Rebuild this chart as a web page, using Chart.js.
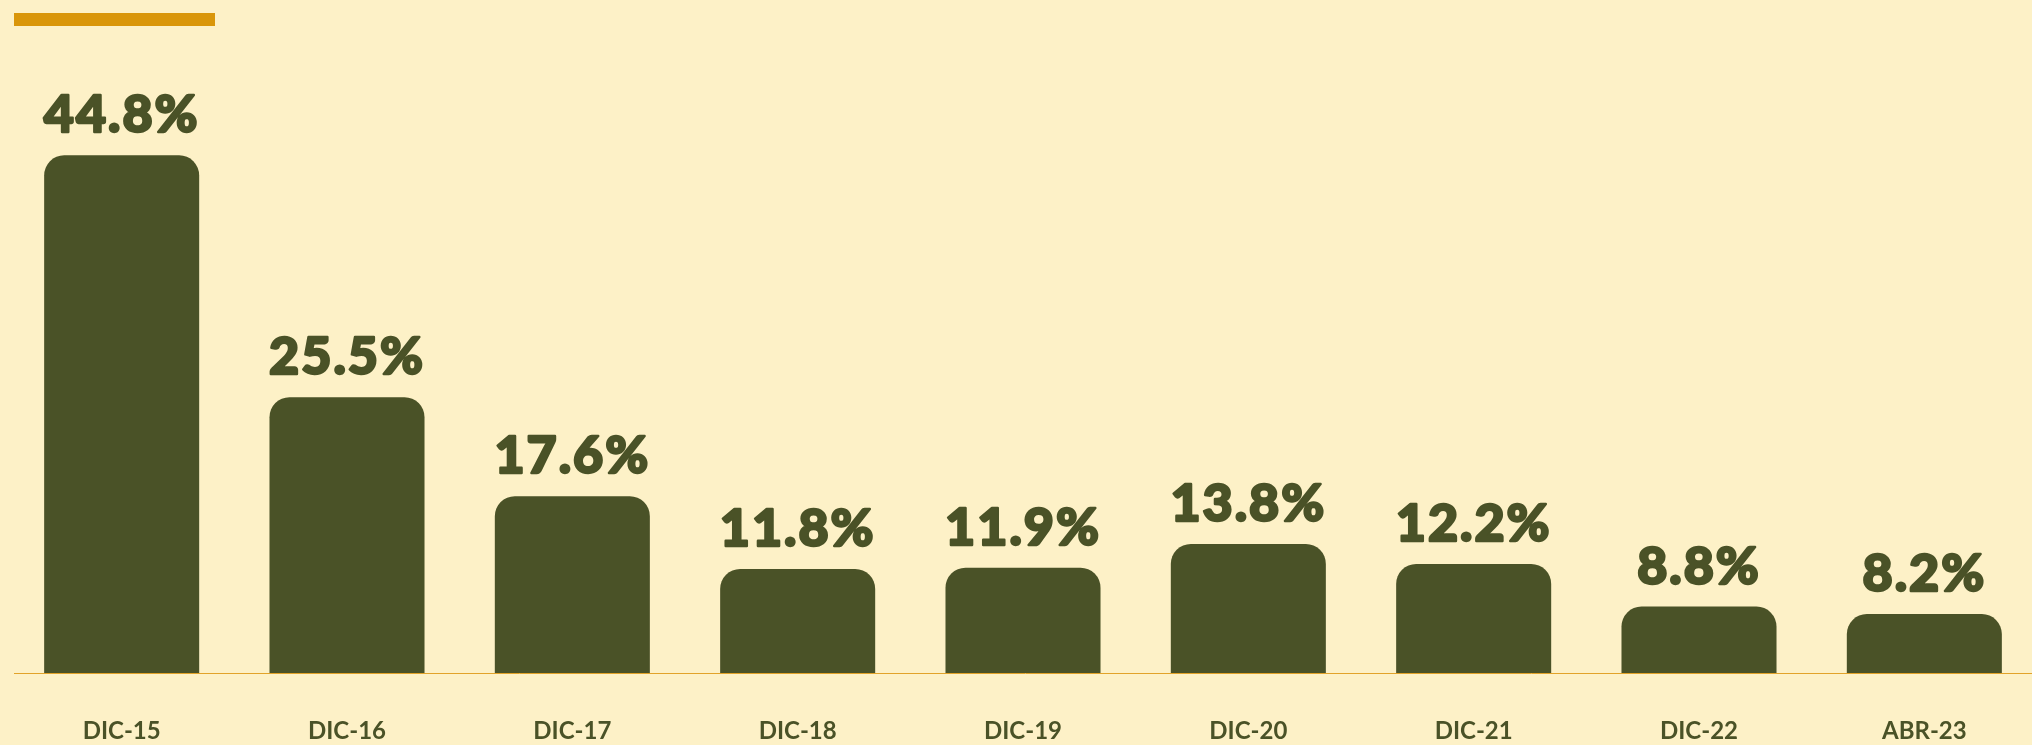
<!DOCTYPE html>
<html lang="es">
<head>
<meta charset="utf-8">
<title>Tasa anual</title>
<script src="https://cdn.jsdelivr.net/npm/chart.js@4.4.1/dist/chart.umd.min.js"></script>
<style>
  html, body { margin: 0; padding: 0; background: #FDF1C7; overflow: hidden; }
  body { width: 2032px; height: 745px; position: relative; }
  .accent { position: absolute; left: 14px; top: 12.5px; width: 201px; height: 13px; background: #D9960A; }
  .wrap { position: absolute; left: 0; top: 0; width: 2037px; height: 745px; }
</style>
</head>
<body>
<div class="accent"></div>
<div class="wrap"><canvas id="chart"></canvas></div>
<script>
// Periodos y valores (%)
const categories = ['DIC-15', 'DIC-16', 'DIC-17', 'DIC-18', 'DIC-19', 'DIC-20', 'DIC-21', 'DIC-22', 'ABR-23'];
const values = [44.8, 25.5, 17.6, 11.8, 11.9, 13.8, 12.2, 8.8, 8.2];
const valueLabels = ['44.8%', '25.5%', '17.6%', '11.8%', '11.9%', '13.8%', '12.2%', '8.8%', '8.2%'];

const INK = '#4A5227';
const LINE = '#E2A32A';

// Etiquetas de valor sobre cada barra (trazo extra para un peso más grueso)
const valueLabelPlugin = {
  id: 'valueLabels',
  afterDatasetsDraw(chart) {
    const ctx = chart.ctx;
    const meta = chart.getDatasetMeta(0);
    ctx.save();
    ctx.fillStyle = INK;
    ctx.strokeStyle = INK;
    ctx.lineWidth = 2.4;
    ctx.lineJoin = 'round';
    ctx.font = '900 52px Lato';
    if ('letterSpacing' in ctx) ctx.letterSpacing = '2px';
    ctx.textAlign = 'center';
    ctx.textBaseline = 'alphabetic';
    meta.data.forEach((bar, i) => {
      const y = bar.y - 23;
      ctx.strokeText(valueLabels[i], bar.x, y);
      ctx.fillText(valueLabels[i], bar.x, y);
    });
    ctx.restore();
  }
};

// Línea base del eje
const baselinePlugin = {
  id: 'baseline',
  beforeDatasetsDraw(chart) {
    const ctx = chart.ctx;
    const y = Math.round(chart.scales.y.getPixelForValue(chart.scales.y.min)) + 0.5;
    ctx.save();
    ctx.strokeStyle = LINE;
    ctx.lineWidth = 1;
    ctx.beginPath();
    ctx.moveTo(14, y);
    ctx.lineTo(chart.width, y);
    ctx.stroke();
    ctx.restore();
  }
};

new Chart(document.getElementById('chart'), {
  type: 'bar',
  data: {
    labels: categories,
    datasets: [{
      data: values,
      backgroundColor: INK,
      borderWidth: 0,
      borderRadius: { topLeft: 20, topRight: 20, bottomLeft: 0, bottomRight: 0 },
      borderSkipped: false,
      barPercentage: 0.688,
      categoryPercentage: 1
    }]
  },
  options: {
    responsive: true,
    maintainAspectRatio: false,
    animation: false,
    layout: { padding: { left: 9, right: 0, top: 40, bottom: 0 } },
    plugins: { legend: { display: false }, tooltip: { enabled: false } },
    scales: {
      x: {
        grid: { display: false, drawTicks: false },
        border: { display: false },
        ticks: {
          color: INK,
          font: { family: 'Lato', weight: 'bold', size: 24 },
          padding: 44,
          maxRotation: 0,
          autoSkip: false
        },
        afterFit(scale) { scale.height = 72; }
      },
      y: {
        display: false,
        min: 3.5,
        max: 54
      }
    }
  },
  plugins: [baselinePlugin, valueLabelPlugin]
});
</script>
</body>
</html>
